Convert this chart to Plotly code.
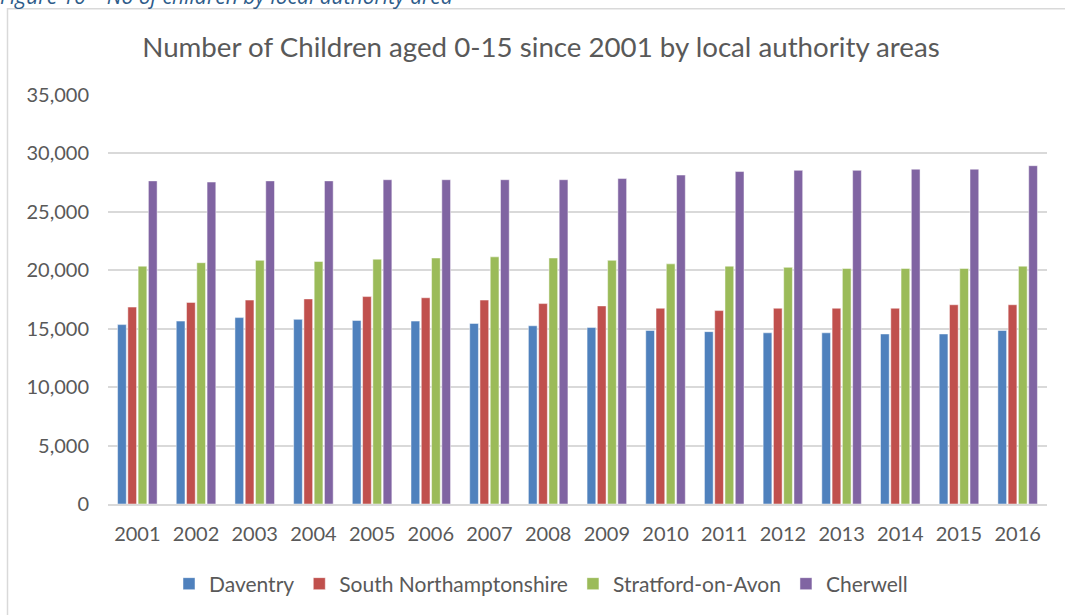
import plotly.graph_objects as go

years = [str(y) for y in range(2001, 2017)]

daventry = [15350, 15650, 15950, 15800, 15700, 15650, 15450, 15250,
            15100, 14850, 14750, 14650, 14650, 14550, 14550, 14850]
south_northants = [16850, 17250, 17450, 17550, 17750, 17650, 17450, 17150,
                   16950, 16750, 16550, 16750, 16750, 16750, 17050, 17050]
stratford = [20350, 20650, 20850, 20750, 20950, 21050, 21150, 21050,
             20850, 20550, 20350, 20250, 20150, 20150, 20150, 20350]
cherwell = [27650, 27550, 27650, 27650, 27750, 27750, 27750, 27750,
            27850, 28150, 28450, 28550, 28550, 28650, 28650, 28950]

series = [
    ("Daventry", daventry, "#4F81BD"),
    ("South Northamptonshire", south_northants, "#C0504D"),
    ("Stratford-on-Avon", stratford, "#9BBB59"),
    ("Cherwell", cherwell, "#8064A2"),
]

W, H = 1065, 615
ML, MR, MT, MB = 108, 18, 95, 110
PW, PH = W - ML - MR, H - MT - MB

def px_x(x):
    return (x - ML) / PW

def px_y(y):
    return (H - MB - y) / PH

FONT = "Lato"
GREY = "#595959"

fig = go.Figure()
for name, vals, color in series:
    fig.add_trace(go.Bar(
        x=years, y=vals, name=name,
        marker=dict(color=color, line=dict(color="rgba(255,255,255,0.6)", width=0.8)),
    ))

fig.update_layout(
    width=W, height=H,
    margin=dict(l=ML, r=MR, t=MT, b=MB),
    paper_bgcolor="white", plot_bgcolor="white",
    barmode="group", bargap=0.30, bargroupgap=0.15,
    font=dict(family=FONT, color=GREY),
    title=dict(
        text="Number of Children aged 0-15 since 2001 by local authority areas",
        x=px_x(541), xanchor="center", xref="paper",
        y=1 - 47 / H, yanchor="middle",
        font=dict(family=FONT, size=27.7, color=GREY),
    ),
    xaxis=dict(
        type="category", showgrid=False, ticks="",
        showline=True, linecolor="#D9D9D9", linewidth=2,
        tickfont=dict(size=20, color=GREY), ticklabelstandoff=11,
    ),
    yaxis=dict(
        range=[0, 35000], dtick=5000, tickformat=",",
        showgrid=True, gridcolor="#D9D9D9", gridwidth=1.5,
        zeroline=False, showline=False, ticks="",
        tickfont=dict(size=20, color=GREY), ticklabelstandoff=18,
    ),
    legend=dict(
        orientation="h", x=px_x(541), xanchor="center",
        y=px_y(584), yanchor="middle",
        font=dict(size=21, color=GREY),
        itemwidth=30, traceorder="normal",
    ),
    shapes=[dict(
        type="rect", xref="paper", yref="paper",
        x0=px_x(7.5), x1=px_x(1075), y0=px_y(630), y1=px_y(8.5),
        line=dict(color="#D9D9D9", width=1.5), fillcolor="rgba(0,0,0,0)",
        layer="below",
    )],
    annotations=[dict(
        text="<i>Figure 16 – No of children by local authority area</i>",
        xref="paper", yref="paper", x=px_x(-2), y=px_y(12),
        xanchor="left", yanchor="bottom", showarrow=False,
        font=dict(family="Open Sans", size=21, color="#2E5C8A"),
    )],
)

fig.write_html("out.html")
